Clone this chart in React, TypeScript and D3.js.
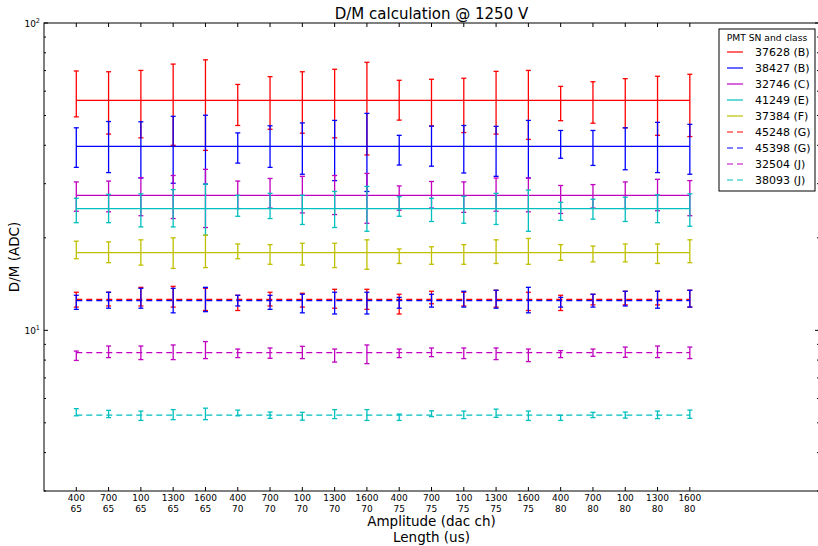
import React from "react";
import * as d3 from "d3";

const amplitudes = ["400","700","100","1300","1600","400","700","100","1300","1600","400","700","100","1300","1600","400","700","100","1300","1600"];
const lengths = ["65","65","65","65","65","70","70","70","70","70","75","75","75","75","75","80","80","80","80","80"];

const seriesNames = ["37628 (B)","38427 (B)","32746 (C)","41249 (E)","37384 (F)","45248 (G)","45398 (G)","32504 (J)","38093 (J)"];
const seriesColors = ["#ff0000","#0000ff","#bf00bf","#00bfbf","#bfbf00","#ff0000","#0000ff","#bf00bf","#00bfbf"];
const seriesDashed = [false,false,false,false,false,true,true,true,true];
const seriesMeans = [56.0, 39.7, 27.5, 24.9, 17.9, 12.6, 12.5, 8.46, 5.30];

const hi37628 = [69.8,69.4,70.1,73.5,75.9,63.1,66.9,69.4,70.7,74.5,65.1,65.6,66.1,69.6,70.1,62.2,64.4,65.9,67.1,68.1];
const lo37628 = [49.5,43.5,42.3,40.0,38.5,46.4,45.1,43.8,42.3,37.2,48.3,46.2,44.0,43.5,41.8,48.1,47.2,45.6,43.1,42.7];
const hi38427 = [45.6,47.8,47.7,49.7,50.1,43.9,46.3,47.3,48.2,50.8,43.1,46.2,46.4,46.1,48.2,44.7,44.7,45.6,47.5,46.8];
const lo38427 = [33.9,32.6,31.3,30.1,29.9,35.0,33.9,32.2,30.7,28.3,34.5,34.2,32.5,31.7,31.3,36.3,34.4,33.3,32.6,32.2];
const hi32746 = [30.4,30.6,31.4,31.9,33.4,30.6,31.2,31.7,31.9,32.4,29.5,30.5,30.4,31.3,31.3,29.6,29.8,30.4,31.0,30.7];
const lo32746 = [24.4,24.3,23.6,23.1,21.6,24.9,25.0,24.1,23.8,22.3,24.6,25.0,24.2,24.4,24.3,24.0,25.0,24.9,24.5,23.6];
const hi41249 = [26.9,27.7,27.8,28.7,29.9,27.5,27.9,27.5,28.3,29.4,27.2,26.9,27.3,27.9,28.6,26.1,26.7,27.1,27.6,27.8];
const lo41249 = [22.4,22.4,21.7,21.7,20.4,23.5,23.1,22.1,21.6,21.0,23.5,22.6,22.3,22.1,21.0,22.8,23.0,22.6,22.4,21.8];
const hi37384 = [19.5,19.4,19.7,20.0,20.4,19.1,19.0,19.2,19.2,19.7,18.4,18.7,19.0,19.7,19.9,19.0,18.8,19.1,19.1,19.7];
const lo37384 = [17.1,16.6,16.3,15.9,16.0,17.1,16.4,16.3,16.0,15.8,16.5,16.4,16.4,16.5,16.4,16.9,16.7,16.7,16.5,16.6];
const hi45248 = [13.3,13.3,13.8,13.9,13.7,13.0,13.3,13.2,13.6,13.6,13.1,13.4,13.3,13.5,13.3,13.0,13.1,13.4,13.4,13.5];
const lo45248 = [11.9,12.0,12.0,11.9,11.6,11.6,12.0,11.9,11.8,11.7,11.3,12.2,12.0,11.9,11.6,11.6,12.1,12.1,12.1,11.9];
const hi45398 = [13.0,13.3,13.7,13.7,13.8,13.0,13.0,13.1,13.3,13.3,12.8,13.1,13.4,13.5,13.8,12.8,13.1,13.4,13.4,13.5];
const lo45398 = [11.7,11.8,11.8,11.4,11.5,12.0,11.7,11.4,11.3,11.3,11.8,11.9,11.9,11.8,11.4,11.9,11.9,12.0,11.8,11.9];
const hi32504 = [8.56,8.89,8.89,8.96,9.19,8.69,8.76,8.87,8.69,8.96,8.69,8.76,8.76,8.76,8.69,8.59,8.69,8.82,8.89,8.82];
const lo32504 = [7.98,8.15,8.03,8.03,8.09,8.15,8.11,8.09,7.88,7.79,8.15,8.21,8.09,8.03,7.91,8.15,8.23,8.17,8.15,8.09];
const hi38093 = [5.56,5.49,5.46,5.52,5.58,5.50,5.42,5.41,5.52,5.52,5.34,5.47,5.46,5.54,5.46,5.29,5.41,5.42,5.46,5.50];
const lo38093 = [5.27,5.20,5.09,5.12,5.12,5.27,5.17,5.10,5.16,5.09,5.09,5.24,5.16,5.21,5.09,5.09,5.20,5.18,5.16,5.17];

const seriesHi = [hi37628, hi38427, hi32746, hi41249, hi37384, hi45248, hi45398, hi32504, hi38093];
const seriesLo = [lo37628, lo38427, lo32746, lo41249, lo37384, lo45248, lo45398, lo32504, lo38093];

const W = 818, H = 546;
const L = 44, R = 819, T = 23, B = 491;
const FONT = "'DejaVu Sans', sans-serif";

export default function App() {
  const x = d3.scaleLinear().domain([-1, 23]).range([L, R]);
  const y = d3.scaleLog().domain([3, 100]).range([B, T]);
  const idx = d3.range(amplitudes.length);

  const majors = [10, 100];
  const minors = [3,4,5,6,7,8,9,20,30,40,50,60,70,80,90];

  const line = d3.line<number>().x((d) => x(d)).y(() => 0);

  return (
    <svg width={W} height={H} style={{ position: "absolute", left: 0, top: 0, background: "#fff" }} fontFamily={FONT}>
      <rect x={0} y={0} width={W} height={H} fill="#fff" />
      <text x={(L + R) / 2} y={19} textAnchor="middle" fontSize={15} fill="#000">D/M calculation @ 1250 V</text>

      {/* series */}
      {seriesNames.map((name, s) => {
        const c = seriesColors[s];
        const m = y(seriesMeans[s]);
        const pts = [0, idx.length - 1];
        return (
          <g key={name}>
            {idx.map((i) => {
              const xi = x(i);
              const y1 = y(seriesHi[s][i]);
              const y2 = y(seriesLo[s][i]);
              return (
                <g key={i} stroke={c} strokeWidth={1.3}>
                  <line x1={xi} x2={xi} y1={y1} y2={y2} />
                  <line x1={xi - 2.5} x2={xi + 2.5} y1={y1} y2={y1} />
                  <line x1={xi - 2.5} x2={xi + 2.5} y1={y2} y2={y2} />
                </g>
              );
            })}
            <path
              d={line(pts) || ""}
              transform={`translate(0,${m})`}
              fill="none"
              stroke={c}
              strokeWidth={1.2}
              strokeDasharray={seriesDashed[s] ? "6,4" : undefined}
            />
          </g>
        );
      })}

      {/* frame */}
      <rect x={L} y={T} width={R - L} height={B - T} fill="none" stroke="#000" strokeWidth={1} />

      {/* x ticks */}
      {idx.map((i) => (
        <g key={"xt" + i}>
          <line x1={x(i)} x2={x(i)} y1={B} y2={B - 4} stroke="#000" />
          <line x1={x(i)} x2={x(i)} y1={T} y2={T + 4} stroke="#000" />
          <text x={x(i)} y={501} textAnchor="middle" fontSize={9} fill="#000">{amplitudes[i]}</text>
          <text x={x(i)} y={512} textAnchor="middle" fontSize={9} fill="#000">{lengths[i]}</text>
        </g>
      ))}

      {/* y ticks */}
      {majors.map((v) => (
        <g key={"ym" + v}>
          <line x1={L} x2={L + 4} y1={y(v)} y2={y(v)} stroke="#000" />
          <line x1={R} x2={R - 4} y1={y(v)} y2={y(v)} stroke="#000" />
          <text x={40} y={y(v) + 4} textAnchor="end" fontSize={9} fill="#000">
            10<tspan fontSize={6.5} dy={-4.5}>{Math.round(Math.log10(v))}</tspan>
          </text>
        </g>
      ))}
      {minors.map((v) => (
        <g key={"yn" + v}>
          <line x1={L} x2={L + 2} y1={y(v)} y2={y(v)} stroke="#000" />
          <line x1={R} x2={R - 2} y1={y(v)} y2={y(v)} stroke="#000" />
        </g>
      ))}

      <text x={(L + R) / 2} y={526} textAnchor="middle" fontSize={13.5} fill="#000">Amplitude (dac ch)</text>
      <text x={(L + R) / 2} y={542} textAnchor="middle" fontSize={13.5} fill="#000">Length (us)</text>
      <text transform={`translate(19,${(T + B) / 2}) rotate(-90)`} textAnchor="middle" fontSize={13.5} fill="#000">D/M (ADC)</text>

      {/* legend */}
      <g>
        <rect x={719} y={29} width={96} height={162} fill="#fff" stroke="#000" strokeWidth={1} />
        <text x={767} y={40.5} textAnchor="middle" fontSize={9.2} fill="#000">PMT SN and class</text>
        {seriesNames.map((name, s) => {
          const ly = 52 + s * 16;
          return (
            <g key={"lg" + s}>
              <line x1={727} x2={743} y1={ly} y2={ly} stroke={seriesColors[s]} strokeWidth={1.2}
                strokeDasharray={seriesDashed[s] ? "6,4" : undefined} />
              <text x={755} y={ly + 4} fontSize={11} fill="#000">{name}</text>
            </g>
          );
        })}
      </g>
    </svg>
  );
}
